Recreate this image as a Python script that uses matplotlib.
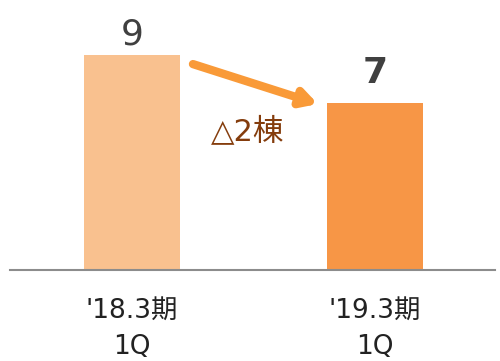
import matplotlib
matplotlib.use('Agg')
import matplotlib.pyplot as plt
import matplotlib.transforms as mtransforms

plt.rcParams['font.family'] = ['DejaVu Sans', 'Noto Sans CJK JP']

periods = ["'18.3期", "'19.3期"]
quarters = ['1Q', '1Q']
values = [9, 7]
bar_colors = ['#F9C18F', '#F79646']
change_label = '△2棟'

fig = plt.figure(figsize=(5, 3.61), dpi=100)
ax = fig.add_axes([0.02, 0.252, 0.97, 0.72])

x = [0, 1]
ax.bar(x, values, width=0.395, color=bar_colors)
ax.set_xlim(-0.502, 1.494)
ax.set_ylim(0, 10.88)

# value labels
ax.text(x[0], values[0] + 0.42, str(values[0]), ha='center', va='baseline',
        fontsize=26, color='#404040')
ax.text(x[1], values[1] + 0.84, str(values[1]), ha='center', va='baseline',
        fontsize=26, color='#404040', fontweight='bold')

# arrow between bars
ax.annotate('', xy=(0.765, 6.95), xytext=(0.251, 8.62),
            arrowprops=dict(arrowstyle='-|>,head_length=0.9,head_width=0.5',
                            color='#F99A38', lw=6, shrinkA=0, shrinkB=0))
ax.text(0.477, 5.44, change_label, ha='center', va='baseline',
        fontsize=22, color='#843C0C')

# category labels
trans = mtransforms.blended_transform_factory(ax.transData, ax.transAxes)
for xi, p, q in zip(x, periods, quarters):
    ax.text(xi, -0.185, p, transform=trans, ha='center', va='baseline',
            fontsize=19, color='#222222')
    ax.text(xi, -0.322, q, transform=trans, ha='center', va='baseline',
            fontsize=19, color='#222222')

for s in ['top', 'right', 'left']:
    ax.spines[s].set_visible(False)
ax.spines['bottom'].set_color('#8C8C8C')
ax.spines['bottom'].set_linewidth(1.5)
ax.set_xticks([])
ax.set_yticks([])

fig.savefig('out.png', dpi=100)
